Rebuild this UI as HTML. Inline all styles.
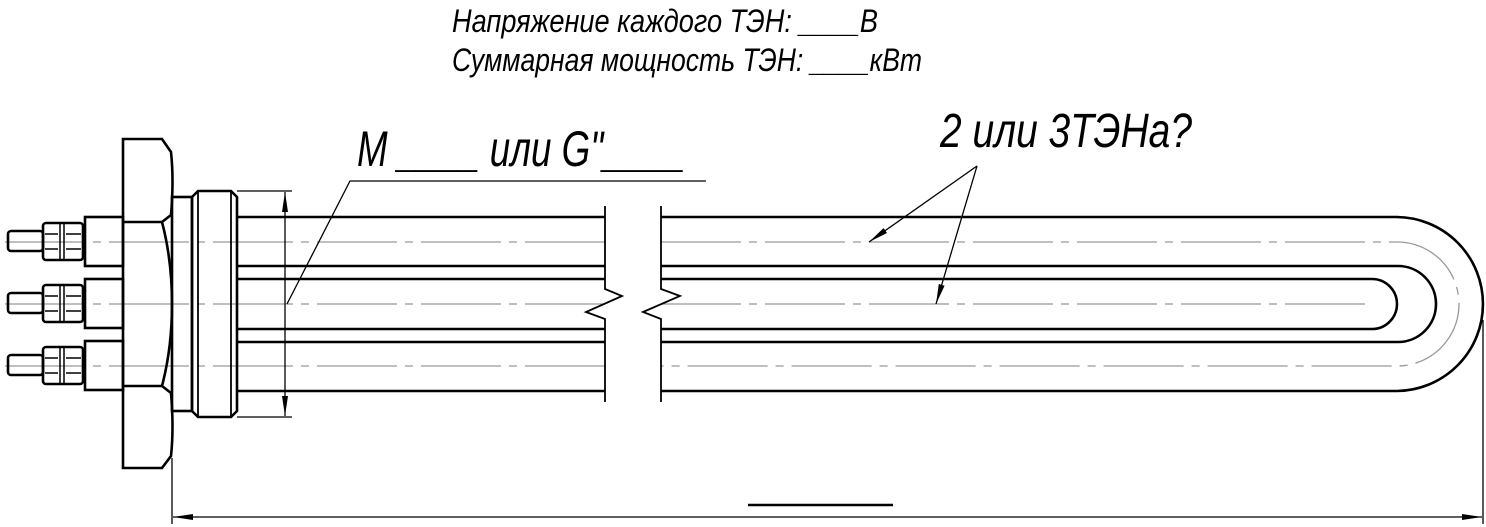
<!DOCTYPE html>
<html><head><meta charset="utf-8"><style>
html,body{margin:0;padding:0;background:#fff;}
svg{display:block}
text{font-family:"Liberation Sans",sans-serif;font-style:italic;fill:#000;}
</style></head><body>
<svg width="1486" height="527" viewBox="0 0 1486 527" xmlns="http://www.w3.org/2000/svg">
<defs>
<marker id="ar" viewBox="0 0 20 6" refX="20" refY="3" markerWidth="20" markerHeight="6" markerUnits="userSpaceOnUse" orient="auto"><path d="M0,0 L20,3 L0,6 Z" fill="#000"/></marker>
</defs>
<!-- text -->
<text x="452" y="32" font-size="32" textLength="426" lengthAdjust="spacingAndGlyphs">Напряжение каждого ТЭН: ____В</text>
<text x="452" y="71" font-size="32" textLength="470" lengthAdjust="spacingAndGlyphs">Суммарная мощность ТЭН: ____кВт</text>
<text x="357" y="166" font-size="50" textLength="328" lengthAdjust="spacingAndGlyphs">М ____ или G"____</text>
<text x="940" y="147" font-size="48" textLength="252" lengthAdjust="spacingAndGlyphs">2 или 3ТЭНа?</text>
<line x1="748" y1="505" x2="893" y2="505" stroke="#000" stroke-width="2.5"/>

<!-- centerlines -->
<g stroke="#999" stroke-width="1.3" fill="none" stroke-dasharray="80,8,8,8">
<line x1="5" y1="242" x2="605" y2="242"/>
<line x1="5" y1="304" x2="605" y2="304"/>
<line x1="5" y1="366" x2="605" y2="366"/>
<path d="M661,242 H1397 A62,62 0 0 1 1397,366 H661"/>
<line x1="661" y1="304" x2="1371" y2="304"/>
</g>

<g stroke="#000" stroke-width="2.6" fill="none">
<line x1="237" y1="217" x2="605" y2="217"/>
<line x1="237" y1="266" x2="605" y2="266"/>
<line x1="237" y1="279" x2="605" y2="279"/>
<line x1="237" y1="329" x2="605" y2="329"/>
<line x1="237" y1="342" x2="605" y2="342"/>
<line x1="237" y1="391" x2="605" y2="391"/>
<path d="M661,217 H1396 A87,87 0 0 1 1396,391 H661"/>
<path d="M661,266 H1398 A38,38 0 0 1 1398,342 H661"/>
<path d="M661,279 H1372 A25,25 0 0 1 1372,329 H661"/>

<g id="term">
<rect x="85" y="217" width="38" height="49"/>
<rect x="43" y="223" width="40" height="37" rx="3"/>
<line x1="60" y1="223" x2="60" y2="260" stroke-width="1.5"/>
<line x1="64" y1="223" x2="64" y2="260" stroke-width="1.5"/>
<line x1="45" y1="234" x2="58" y2="234" stroke-width="1.5"/>
<line x1="45" y1="249" x2="58" y2="249" stroke-width="1.5"/>
<line x1="66" y1="234" x2="81" y2="234" stroke-width="1.5"/>
<line x1="66" y1="249" x2="81" y2="249" stroke-width="1.5"/>
<rect x="8" y="231" width="35" height="20" rx="3"/>
</g>
<use href="#term" y="62"/>
<use href="#term" y="124"/>

<path d="M123,139 H162 L171,152 Q174,180 171,215 L162,222 Q172,260 172,304 Q172,348 162,386 L171,393 Q174,428 171,456 L162,468 H123 Z"/>
<line x1="123" y1="222" x2="162" y2="222"/>
<line x1="123" y1="386" x2="162" y2="386"/>
<rect x="172" y="197" width="20" height="214"/>
<path d="M192,197 L198,191 H231 L237,197 V411 L231,417 H198 L192,411 Z"/>
<line x1="198" y1="191" x2="198" y2="417" stroke-width="1.8"/>
<line x1="231" y1="191" x2="231" y2="417" stroke-width="1.8"/>

<path d="M605,206 V289 L622,296 L586,312 L605,319 V402" stroke-width="1.8"/>
<path d="M661,206 V289 L680,296 L643,312 L661,319 V402" stroke-width="1.8"/>
</g>

<g stroke="#000" stroke-width="1.3" fill="none">
<line x1="237" y1="191" x2="292" y2="191"/>
<line x1="237" y1="417" x2="292" y2="417"/>
<line x1="285" y1="304" x2="285" y2="192" marker-end="url(#ar)"/>
<line x1="285" y1="304" x2="285" y2="416" marker-end="url(#ar)"/>
<polyline points="287,304 350,181 706,181"/>
<line x1="172" y1="458" x2="172" y2="524"/>
<line x1="1483" y1="320" x2="1483" y2="524"/>
<line x1="828" y1="517" x2="173" y2="517" marker-end="url(#ar)"/>
<line x1="828" y1="517" x2="1482" y2="517" marker-end="url(#ar)"/>
<line x1="977" y1="166" x2="869" y2="242" marker-end="url(#ar)"/>
<line x1="977" y1="166" x2="936" y2="304" marker-end="url(#ar)"/>
</g>
</svg>
</body></html>
